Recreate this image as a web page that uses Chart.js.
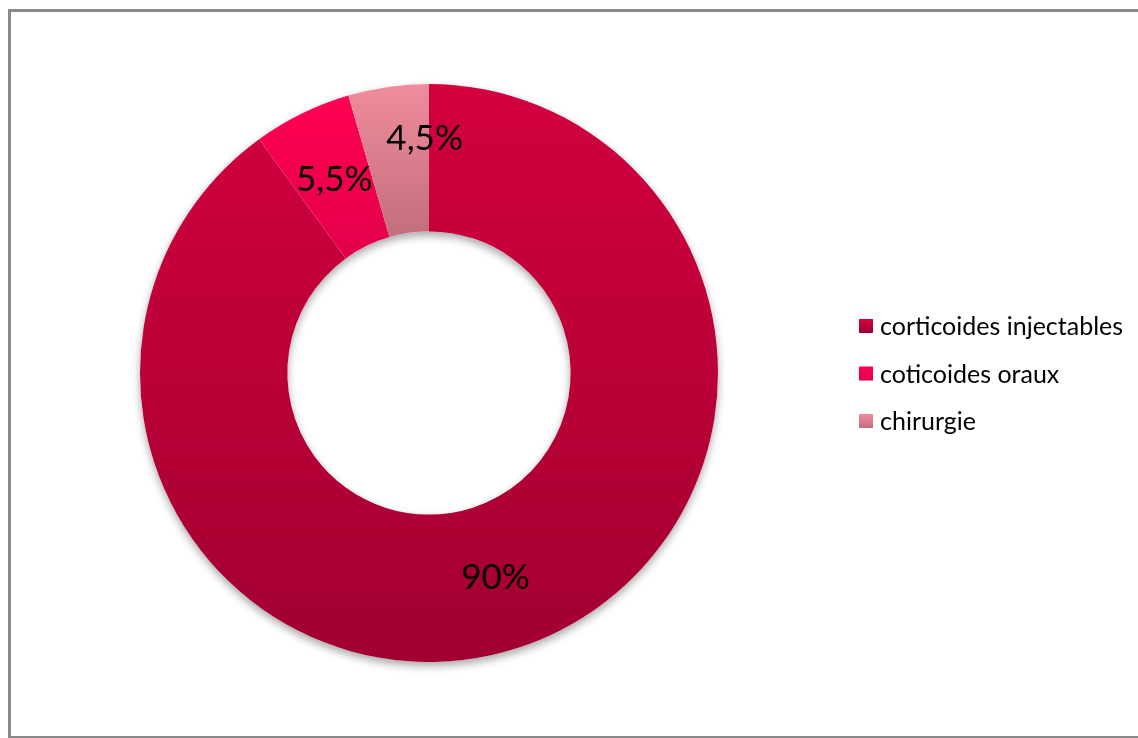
<!DOCTYPE html>
<html>
<head>
<meta charset="utf-8">
<script src="https://cdn.jsdelivr.net/npm/chart.js@4.4.1/dist/chart.umd.min.js"></script>
<style>
    html, body { margin: 0; padding: 0; background: #fff; overflow: hidden; }
    #wrap { position: relative; width: 1138px; height: 738px; }
    #frame {
        position: absolute; left: 8px; top: 9px; width: 1200px; height: 724px;
        border: 3px solid #8a8a8a; pointer-events: none;
    }
    canvas { position: absolute; left: 0; top: 0; }
</style>
</head>
<body>
<div id="wrap">
    <canvas id="donut" width="1138" height="738"></canvas>
    <div id="frame"></div>
</div>
<script>
const labels = ['corticoides injectables', 'coticoides oraux', 'chirurgie'];
const values = [90, 5.5, 4.5];
const valueLabels = ['90%', '5,5%', '4,5%'];

// top / bottom colours of each slice's vertical gradient
const sliceTop = ['#d3003f', '#ff0052', '#f08c9b'];
const sliceBottom = ['#a10030', '#e3004a', '#c26e7d'];

const FONT = 'Lato, "Open Sans", sans-serif';

// vertical extent of slice i, worked out from the chart area and the data
function sliceBounds(chart, i) {
    const a = chart.chartArea;
    const cy = (a.top + a.bottom) / 2;
    const outer = Math.min(a.right - a.left, a.bottom - a.top) / 2;
    const inner = outer * 0.49;
    const total = values.reduce((s, v) => s + v, 0);
    let start = -Math.PI / 2;
    for (let k = 0; k < i; k++) start += values[k] / total * Math.PI * 2;
    const end = start + values[i] / total * Math.PI * 2;
    let top = Infinity, bottom = -Infinity;
    for (let t = start; t <= end + 1e-9; t += (end - start) / 60) {
        [outer, inner].forEach(r => {
            const y = cy + Math.sin(t) * r;
            top = Math.min(top, y);
            bottom = Math.max(bottom, y);
        });
    }
    return [top, bottom];
}

function sliceFill(context) {
    const chart = context.chart;
    const i = context.dataIndex;
    if (!chart.chartArea) return sliceTop[i];
    const [y0, y1] = sliceBounds(chart, i);
    const g = chart.ctx.createLinearGradient(0, y0, 0, y1);
    g.addColorStop(0, sliceTop[i]);
    g.addColorStop(1, sliceBottom[i]);
    return g;
}

// soft drop shadow under the ring
const ringShadow = {
    id: 'ringShadow',
    beforeDatasetsDraw(chart) {
        const arc = chart.getDatasetMeta(0).data[0];
        if (!arc) return;
        const ctx = chart.ctx;
        ctx.save();
        ctx.shadowColor = 'rgba(0,0,0,0.35)';
        ctx.shadowBlur = 9;
        ctx.shadowOffsetY = 4;
        ctx.fillStyle = '#fff';
        ctx.beginPath();
        ctx.arc(arc.x, arc.y, arc.outerRadius, 0, Math.PI * 2);
        ctx.arc(arc.x, arc.y, arc.innerRadius, Math.PI * 2, 0, true);
        ctx.fill('evenodd');
        ctx.restore();
    }
};

// value labels on the slices; the narrow last slice gets nudged up and right
const labelShift = [[0, 0], [0, 0], [26, -21]];
const sliceLabels = {
    id: 'sliceLabels',
    afterDatasetsDraw(chart) {
        const ctx = chart.ctx;
        ctx.save();
        ctx.font = '35px ' + FONT;
        ctx.fillStyle = '#000';
        ctx.textAlign = 'center';
        ctx.textBaseline = 'middle';
        chart.getDatasetMeta(0).data.forEach((arc, i) => {
            const p = arc.tooltipPosition();
            ctx.fillText(valueLabels[i], p.x + labelShift[i][0], p.y + labelShift[i][1]);
        });
        ctx.restore();
    }
};

// legend on the right
const sideLegend = {
    id: 'sideLegend',
    afterDraw(chart) {
        const ctx = chart.ctx;
        const x = 859, size = 14, firstY = 326, step = 47.5;
        ctx.save();
        ctx.font = '25px ' + FONT;
        ctx.textBaseline = 'middle';
        labels.forEach((name, i) => {
            const y = firstY + i * step;
            const g = ctx.createLinearGradient(0, y - size / 2, 0, y + size / 2);
            g.addColorStop(0, sliceTop[i]);
            g.addColorStop(1, sliceBottom[i]);
            ctx.fillStyle = g;
            ctx.fillRect(x, y - size / 2, size, size);
            ctx.fillStyle = '#000';
            ctx.fillText(name, x + 21, y + 1);
        });
        ctx.restore();
    }
};

new Chart(document.getElementById('donut'), {
    type: 'doughnut',
    data: {
        labels: labels,
        datasets: [{
            data: values,
            backgroundColor: sliceFill,
            borderWidth: 0
        }]
    },
    options: {
        responsive: false,
        animation: false,
        events: [],
        cutout: '49%',
        layout: { padding: { left: 140, right: 420, top: 84, bottom: 76 } },
        plugins: {
            legend: { display: false },
            tooltip: { enabled: false }
        }
    },
    plugins: [ringShadow, sliceLabels, sideLegend]
});
</script>
</body>
</html>
